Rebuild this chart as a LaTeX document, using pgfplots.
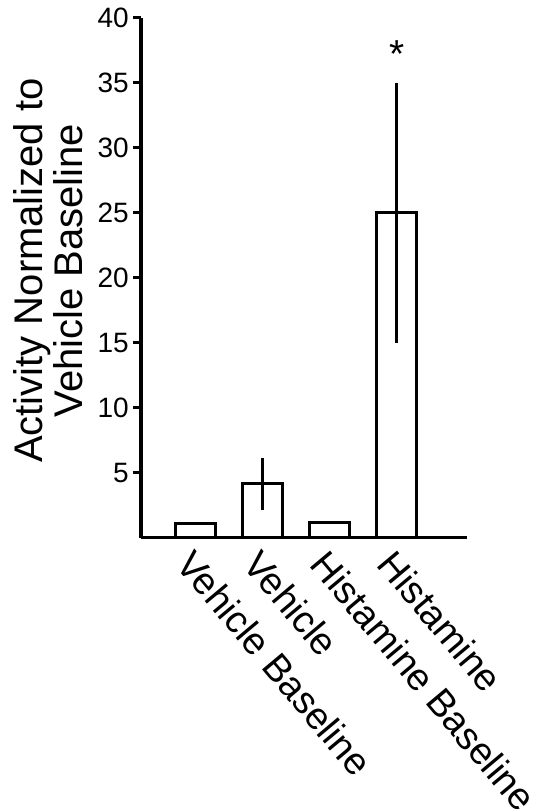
\documentclass[border=0pt]{standalone}
\usepackage{fontspec}
\setmainfont{Liberation Sans}
\usepackage{pgfplots}
\pgfplotsset{compat=1.18}

\begin{document}
\begin{tikzpicture}
\begin{axis}[
  name=ax,
  scale only axis, width=326pt, height=519.7pt,
  xmin=-0.82, xmax=4.045, ymin=0, ymax=40,
  axis lines=left, axis line style={-, line width=3.2pt},
  xtick={0,1,2,3},
  xticklabels={Vehicle Baseline, Vehicle, Histamine Baseline, Histamine},
  ytick={5,10,...,40},
  x tick style={draw=none},
  y tick style={line width=3pt, black},
  tick align=outside, major tick length=8pt,
  /pgf/number format/assume math mode=true,
  tick label style={font=\fontsize{28}{32}\selectfont},
  yticklabel style={inner sep=4pt},
  xticklabel style={font=\fontsize{38}{40}\selectfont, rotate=-50, anchor=north west, inner sep=1pt},
  ylabel={Activity Normalized to\\Vehicle Baseline},
  ylabel style={at={(axis description cs:0,0.514)}, anchor=center, yshift=93pt,
    align=center, font=\fontsize{40}{40}\selectfont},
  clip=false,
]
\addplot[ybar, bar width=40pt, fill=white, draw=black, line width=3pt,
  error bars/.cd, y dir=both, y explicit, error mark=none,
  error bar style={line width=3pt, black}]
  coordinates {
    (0,1.1) +- (0,0)
    (1,4.15) +- (0,2.0)
    (2,1.15) +- (0,0.08)
    (3,25) +- (0,10)
  };
\node[font=\fontsize{39}{39}\selectfont] at (axis cs:3,37.2) {*};
\end{axis}
\pgfresetboundingbox
\path[use as bounding box] ([xshift=-141pt,yshift=-271.3pt]ax.south west)
  rectangle ([xshift=391pt,yshift=18pt]ax.north west);
\end{tikzpicture}
\end{document}
